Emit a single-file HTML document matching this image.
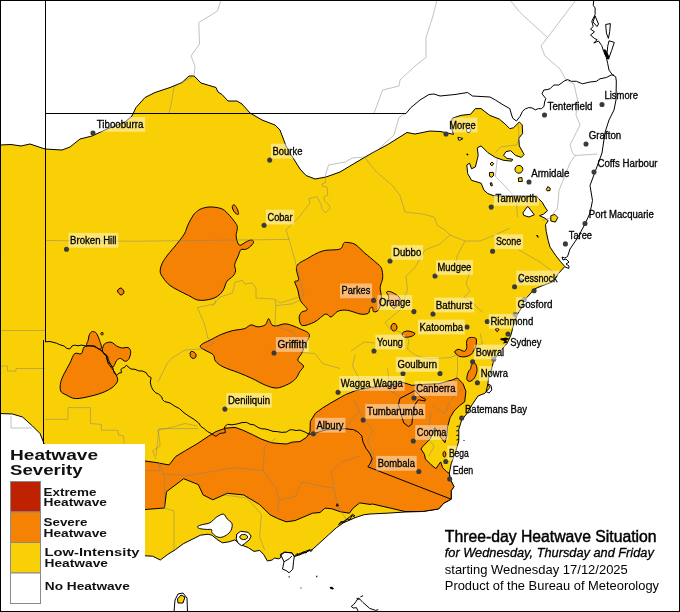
<!DOCTYPE html>
<html><head><meta charset="utf-8"><title>Three-day Heatwave Situation</title>
<style>
html,body{margin:0;padding:0;background:#fff;}
body{width:680px;height:612px;overflow:hidden;font-family:"Liberation Sans",sans-serif;}
svg{display:block;will-change:transform;opacity:0.999;font-family:"Liberation Sans",sans-serif;}
.t{font-size:10px;fill:#000;stroke:#000;stroke-width:0.3px;}
.lb{fill:#fff;fill-opacity:0.44;}
.dot{fill:#3a3a3c;}
.dotg{fill:#707070;}
.g{fill:none;stroke:#808080;stroke-opacity:0.48;stroke-width:1;}
.k{fill:none;stroke:#000;stroke-width:1;stroke-linejoin:round;}
.c{stroke:#000;stroke-width:1;stroke-linejoin:round;}
.lg{font-weight:bold;fill:#111;}
</style></head><body>
<svg width="680" height="612" viewBox="0 0 680 612">
<rect x="0" y="0" width="680" height="612" fill="#fff"/>

<path class="c" fill="#f9d005" d="M0.0,145.0 L11.0,144.5 L21.0,146.0 L30.0,144.0 L45.0,149.0 L62.0,150.0 L70.0,147.0 L80.0,139.0 L92.0,136.0 L107.0,129.0 L125.0,122.0 L132.0,116.0 L136.0,107.5 L145.0,97.5 L155.0,92.5 L170.0,87.5 L182.0,82.5 L189.0,76.0 L194.0,76.0 L201.0,83.0 L216.0,87.5 L218.0,92.0 L222.0,94.5 L228.0,101.0 L237.0,101.0 L242.0,104.0 L250.0,113.0 L262.0,120.0 L275.0,125.0 L280.0,130.0 L286.0,146.0 L290.0,153.0 L300.0,169.0 L306.0,175.5 L315.0,179.0 L326.0,177.0 L340.0,172.0 L355.0,163.0 L372.0,153.0 L387.0,145.0 L407.0,132.5 L415.0,134.0 L430.0,131.0 L440.0,131.5 L445.7,132.5 L453.4,134.4 L450.5,124.9 L452.4,118.2 L461.0,115.3 L470.6,114.3 L475.4,108.6 L481.0,108.6 L489.7,115.3 L499.3,119.1 L505.0,123.9 L509.8,128.7 L513.6,127.7 L519.3,122.0 L522.2,124.9 L522.6,133.5 L518.8,138.2 L519.3,145.9 L524.1,154.5 L521.3,157.4 L515.5,155.4 L510.7,150.7 L506.0,151.6 L503.5,155.4 L506.9,158.3 L512.7,159.3 L511.7,161.2 L503.1,160.2 L495.4,157.4 L487.8,152.6 L481.1,145.9 L477.3,147.8 L478.2,155.4 L475.4,166.9 L471.5,168.8 L469.6,163.1 L466.8,165.0 L467.7,173.6 L471.5,180.3 L481.1,183.2 L484.0,190.3 L487.9,193.6 L493.2,195.6 L503.0,196.0 L520.0,196.0 L537.0,196.3 L538.2,198.2 L542.2,202.2 L544.8,206.8 L547.5,210.8 L543.5,214.1 L539.6,215.7 L544.8,218.1 L548.2,220.7 L545.5,224.7 L546.2,231.3 L548.2,240.6 L550.1,247.2 L555.4,255.1 L560.7,261.8 L564.8,266.5 L558.2,273.8 L552.9,281.8 L542.3,285.7 L534.4,289.0 L529.1,295.0 L524.5,300.3 L521.2,308.2 L517.2,314.8 L513.0,326.9 L511.0,334.9 L507.0,343.5 L501.8,349.4 L496.5,356.0 L493.2,362.6 L491.2,370.6 L488.5,378.5 L487.9,383.8 L489.8,387.5 L485.0,393.2 L478.0,396.0 L472.2,404.6 L466.5,414.1 L461.7,419.9 L458.8,429.4 L458.8,440.9 L456.0,450.4 L451.2,463.8 L449.3,473.4 L450.2,479.1 L454.0,486.8 L451.2,490.6 L451.2,499.2 L444.0,503.0 L438.5,509.0 L422.5,511.5 L405.0,512.0 L390.0,513.0 L370.0,514.0 L364.1,514.7 L355.3,517.6 L343.5,522.8 L336.2,527.9 L328.8,534.6 L320.0,542.6 L312.6,549.3 L303.0,553.5 L294.3,556.6 L292.1,552.9 L284.7,552.2 L280.3,554.4 L281.0,557.5 L278.8,558.8 L274.4,558.1 L272.1,560.0 L267.4,561.0 L263.5,554.3 L259.7,550.4 L254.0,551.4 L248.2,547.6 L240.6,544.7 L234.9,539.9 L229.1,541.8 L222.4,542.8 L217.7,539.9 L211.9,535.2 L208.1,534.2 L200.4,535.2 L192.8,539.0 L183.2,543.8 L175.6,549.5 L167.9,554.3 L160.3,560.0 L152.6,556.2 L145.0,555.8 L138.0,556.0 L138.0,600.0 L44.0,600.0 L44.0,443.5 L40.0,433.5 L32.5,426.0 L22.5,417.0 L12.5,414.0 L0.0,413.5Z"/>
<path class="c" fill="#f9d005" d="M490.0,164.0 L492.0,162.0 L493.7,163.7 L491.8,165.9Z"/>
<path class="c" fill="#f9d005" d="M489.4,172.6 L493.2,172.3 L493.8,175.0 L491.8,177.3 L489.6,176.3Z"/>
<path class="c" fill="#f9d005" d="M490.2,183.0 L491.6,182.6 L492.4,185.6 L491.0,186.0Z"/>
<path class="c" fill="#f9d005" d="M522.8,169.3 C522.8,170.1 522.5,171.0 522.1,171.6 C521.6,172.2 520.8,172.8 520.1,173.0 C519.4,173.2 518.4,173.2 517.7,173.0 C517.0,172.8 516.2,172.2 515.7,171.6 C515.3,171.0 515.0,170.1 515.0,169.3 C515.0,168.5 515.3,167.6 515.7,167.0 C516.2,166.4 517.0,165.8 517.7,165.6 C518.4,165.4 519.4,165.4 520.1,165.6 C520.8,165.8 521.6,166.4 522.1,167.0 C522.5,167.6 522.8,168.5 522.8,169.3Z"/>
<path class="c" fill="#f9d005" d="M518.4,178.0 L521.8,177.5 L522.4,181.4 L518.6,181.6Z"/>
<path class="c" fill="#f9d005" d="M546.3,189.5 L547.8,186.6 L550.2,188.2 L550.0,190.6 L547.0,190.8Z"/>
<path class="c" fill="#f9d005" d="M550.8,215.7 L554.8,214.4 L557.8,217.4 L555.4,222.1 L550.8,221.0Z"/>
<path class="c" fill="#f9d005" d="M177.5,599.0 L181.0,595.0 L185.0,597.0 L183.0,603.0 L178.0,603.0Z"/>
<path class="c" fill="#fff" d="M470.6,130.4 C470.6,130.9 470.3,131.5 470.0,131.9 C469.6,132.2 469.0,132.5 468.5,132.5 C468.0,132.5 467.4,132.2 467.0,131.9 C466.7,131.5 466.4,130.9 466.4,130.4 C466.4,129.9 466.7,129.3 467.0,128.9 C467.4,128.6 468.0,128.3 468.5,128.3 C469.0,128.3 469.6,128.6 470.0,128.9 C470.3,129.3 470.6,129.9 470.6,130.4Z"/>
<path class="c" fill="#fff" d="M197.6,526.5 C198.1,525.9 200.3,525.2 202.4,524.6 C204.5,524.0 207.6,524.0 210.0,522.7 C212.4,521.4 214.5,518.4 216.7,517.0 C218.9,515.6 221.7,513.8 223.4,514.1 C225.2,514.4 225.8,517.3 227.2,518.9 C228.6,520.5 231.4,521.8 232.0,523.7 C232.6,525.6 231.9,528.5 231.0,530.4 C230.1,532.3 228.1,534.0 226.3,535.2 C224.6,536.4 222.3,537.2 220.5,537.4 C218.7,537.5 217.1,537.0 215.7,536.1 C214.3,535.2 212.6,533.4 211.9,532.3 C211.2,531.2 212.4,530.1 211.5,529.6 C210.6,529.1 208.2,529.6 206.2,529.4 C204.2,529.2 200.9,529.0 199.5,528.5 C198.1,528.0 197.1,527.1 197.6,526.5Z"/>
<path class="c" fill="#fff" d="M527.2,206.8 L528.2,206.8 L534.3,214.8 L529.0,217.0 L523.7,215.4 L523.0,212.8Z"/>
<path class="c" fill="#fff" d="M236.8,534.0 L240.6,531.3 L248.2,532.3 L251.1,536.1 L249.2,539.9 L244.4,543.8 L241.6,545.7 L238.0,543.0 L236.2,539.0Z"/>
<path class="c" fill="#fff" d="M458.0,137.3 L463.0,138.5 L460.0,140.2 L458.5,140.0Z"/>
<path class="c" fill="#f9d005" d="M247.6,537.0 C247.6,537.6 247.1,538.4 246.5,538.8 C245.8,539.3 244.6,539.6 243.7,539.6 C242.8,539.6 241.6,539.3 240.9,538.8 C240.3,538.4 239.8,537.6 239.8,537.0 C239.8,536.4 240.3,535.6 240.9,535.2 C241.6,534.7 242.8,534.4 243.7,534.4 C244.6,534.4 245.8,534.7 246.5,535.2 C247.1,535.6 247.6,536.4 247.6,537.0Z"/>
<path class="c" fill="#f58205" d="M140.0,461.0 L145.0,461.0 L156.0,462.5 L169.0,465.0 L175.7,456.5 L185.3,450.7 L196.8,444.0 L208.2,436.4 L215.9,431.6 L225.4,428.2 L235.0,427.4 L242.7,430.1 L252.2,434.5 L261.8,439.3 L271.3,442.7 L279.0,443.5 L286.6,444.0 L292.4,442.1 L300.0,441.6 L306.7,437.2 L310.0,431.5 L310.3,421.5 L315.4,413.2 L322.5,408.0 L330.9,402.9 L345.3,394.7 L355.6,390.6 L370.0,387.5 L388.5,385.4 L402.9,382.4 L412.2,385.4 L420.0,384.6 L439.0,383.7 L452.5,379.9 L457.3,377.9 L463.0,383.7 L465.9,391.3 L464.7,401.8 L459.4,405.7 L454.1,411.0 L450.1,417.6 L447.5,426.9 L446.8,436.2 L444.9,442.8 L440.2,436.8 L434.9,427.6 L430.3,438.8 L422.4,446.8 L421.0,449.0 L424.4,454.3 L425.4,459.0 L431.1,464.8 L435.9,468.6 L440.7,461.9 L442.6,467.7 L446.4,471.5 L449.3,473.4 L450.2,479.1 L454.0,486.8 L451.2,490.6 L451.2,499.2 L444.0,503.0 L438.5,509.0 L422.5,511.5 L405.0,511.5 L390.0,508.0 L372.5,504.0 L370.0,504.4 L359.7,502.9 L353.1,508.1 L349.4,513.2 L340.6,511.8 L331.8,508.8 L325.1,508.1 L320.0,512.5 L312.6,513.2 L303.8,516.9 L295.0,520.6 L286.2,521.8 L277.4,518.4 L270.0,514.7 L259.7,504.6 L243.6,494.9 L227.4,493.3 L212.8,499.8 L203.1,494.9 L198.3,484.6 L183.7,478.7 L166.5,491.7 L164.5,508.0 L145.0,509.5 L140.0,509.5Z"/>
<path class="c" fill="#f58205" d="M202.9,208.2 C205.3,207.5 208.6,206.8 211.8,207.0 C215.1,207.2 219.5,207.7 222.4,209.1 C225.3,210.5 227.2,213.0 229.4,215.3 C231.6,217.7 234.3,221.1 235.6,223.2 C236.9,225.2 237.3,225.5 237.4,227.6 C237.5,229.7 236.1,233.2 236.1,235.6 C236.1,238.0 236.8,240.2 237.4,241.8 C238.1,243.4 238.5,245.3 240.0,245.3 C241.5,245.3 244.3,242.7 246.2,241.8 C248.1,240.9 250.3,239.9 251.5,240.0 C252.7,240.1 253.9,241.1 253.6,242.3 C253.3,243.5 251.1,245.9 249.7,247.1 C248.3,248.3 246.8,249.0 245.3,249.4 C243.8,249.8 242.1,248.6 240.9,249.7 C239.7,250.8 239.2,253.4 238.2,255.9 C237.2,258.4 235.1,262.2 234.7,264.7 C234.3,267.2 235.9,269.0 235.6,270.9 C235.3,272.8 234.4,274.4 232.9,276.2 C231.4,278.0 228.4,279.1 226.8,281.5 C225.2,283.9 224.8,287.8 223.2,290.3 C221.6,292.8 219.6,294.9 217.1,296.5 C214.6,298.1 211.4,299.1 208.2,299.7 C204.9,300.3 200.8,300.7 197.6,300.0 C194.4,299.3 192.0,297.2 188.8,295.6 C185.6,294.0 181.4,292.1 178.2,290.3 C175.0,288.5 171.9,287.1 169.4,285.0 C166.9,282.9 164.7,280.1 163.2,277.9 C161.7,275.7 160.4,274.1 160.2,271.8 C160.0,269.5 160.8,266.6 162.0,263.8 C163.2,261.0 165.2,258.2 167.6,255.0 C170.0,251.8 173.7,247.9 176.5,244.4 C179.3,240.9 182.5,237.0 184.4,233.8 C186.3,230.6 186.4,228.1 187.9,225.0 C189.4,221.9 191.6,217.7 193.2,215.3 C194.8,213.0 196.0,212.1 197.6,210.9 C199.2,209.7 200.5,208.8 202.9,208.2Z"/>
<path class="c" fill="#f58205" d="M232.6,205.6 C232.9,205.1 233.8,204.5 234.5,205.0 C235.2,205.5 236.3,207.1 237.0,208.5 C237.7,209.9 238.5,212.5 238.6,213.5 C238.7,214.5 238.0,214.6 237.3,214.3 C236.6,214.1 235.1,213.1 234.3,212.0 C233.5,210.9 232.7,209.1 232.4,208.0 C232.1,206.9 232.2,206.1 232.6,205.6Z"/>
<path class="c" fill="#f58205" d="M346.4,242.4 C348.3,242.6 352.0,242.6 355.0,244.3 C358.0,246.1 361.1,249.9 364.6,252.9 C368.1,255.9 373.2,259.9 376.0,262.5 C378.8,265.1 380.3,265.6 381.4,268.2 C382.5,270.8 382.9,274.6 382.7,277.8 C382.5,281.0 380.4,284.2 380.2,287.4 C380.0,290.6 381.4,293.7 381.4,296.9 C381.3,300.1 380.6,304.1 379.9,306.5 C379.2,308.9 378.1,310.5 377.0,311.3 C375.9,312.1 373.9,312.0 373.2,311.3 C372.5,310.6 373.2,307.9 372.6,307.4 C372.1,306.9 370.6,307.4 369.9,308.4 C369.2,309.4 369.9,312.2 368.4,313.2 C366.9,314.1 364.2,314.6 360.7,314.1 C357.2,313.6 351.2,310.8 347.4,310.3 C343.6,309.8 340.5,310.2 337.8,311.3 C335.1,312.4 333.2,316.5 331.1,317.0 C329.0,317.5 328.1,313.3 325.4,314.1 C322.7,314.9 318.7,319.9 314.9,321.8 C311.1,323.7 305.0,326.2 302.4,325.6 C299.8,325.0 299.3,320.2 299.2,318.0 C299.1,315.8 300.2,313.6 301.5,312.2 C302.8,310.8 307.4,311.3 307.2,309.4 C307.0,307.5 302.1,304.0 300.5,300.7 C298.9,297.4 298.6,292.5 297.6,289.3 C296.7,286.1 294.6,283.2 294.8,281.6 C295.0,280.0 298.3,282.2 298.6,279.7 C298.9,277.1 295.3,269.8 296.7,266.3 C298.1,262.8 302.9,261.2 307.2,258.7 C311.5,256.1 317.1,252.6 322.5,251.0 C327.9,249.4 336.2,250.4 339.7,249.1 C343.2,247.8 342.4,244.5 343.5,243.4 C344.6,242.3 344.5,242.2 346.4,242.4Z"/>
<path class="c" fill="#f58205" d="M87.4,346.0 C85.3,344.5 87.9,341.9 88.2,340.0 C88.5,338.1 88.8,336.0 89.4,334.6 C90.0,333.2 91.0,332.1 91.8,331.7 C92.6,331.3 93.7,331.7 94.5,332.0 C95.3,332.3 95.8,332.2 96.6,333.6 C97.4,335.0 98.8,337.8 99.5,340.3 C100.2,342.9 102.8,347.9 100.8,348.9 C98.8,349.8 89.5,347.5 87.4,346.0Z"/>
<path class="c" fill="#f58205" d="M102.4,349.9 C102.6,348.5 102.9,345.4 104.3,344.1 C105.7,342.8 108.9,341.9 111.0,342.2 C113.1,342.5 115.0,345.1 116.7,346.0 C118.5,346.9 119.6,347.6 121.5,347.9 C123.4,348.2 126.7,347.0 128.2,347.6 C129.7,348.2 130.5,350.0 130.7,351.8 C130.8,353.6 130.0,356.9 129.1,358.5 C128.2,360.1 126.7,361.3 125.3,361.3 C123.9,361.3 121.9,358.6 120.5,358.5 C119.1,358.4 118.0,359.0 116.7,360.4 C115.4,361.8 114.2,367.0 112.9,367.1 C111.6,367.2 110.1,363.2 109.1,361.3 C108.1,359.4 108.1,357.0 107.1,355.6 C106.1,354.2 104.1,353.6 103.3,352.7 C102.5,351.8 102.2,351.3 102.4,349.9Z"/>
<path class="c" fill="#f58205" d="M74.6,353.7 C76.5,352.1 79.7,354.8 81.3,353.7 C82.9,352.6 82.6,348.3 84.2,347.0 C85.8,345.7 88.5,345.4 90.9,345.7 C93.3,346.0 96.0,347.2 98.5,348.9 C101.0,350.5 104.6,353.2 106.2,355.6 C107.8,358.0 106.8,360.6 108.1,363.2 C109.4,365.8 112.2,368.2 113.8,370.9 C115.4,373.6 117.7,376.9 117.7,379.5 C117.7,382.1 116.0,384.1 113.8,386.2 C111.6,388.3 108.1,390.2 104.3,391.9 C100.5,393.5 95.7,395.0 90.9,396.1 C86.1,397.2 79.8,398.8 75.6,398.6 C71.4,398.4 68.5,396.1 66.0,394.8 C63.5,393.5 61.6,393.1 60.7,391.0 C59.8,388.9 60.1,385.3 60.7,382.4 C61.3,379.5 62.6,377.0 64.1,373.8 C65.6,370.6 68.2,366.6 69.9,363.2 C71.7,359.8 72.7,355.3 74.6,353.7Z"/>
<path class="c" fill="#f58205" d="M103.3,333.6 C103.3,334.0 103.0,334.6 102.7,334.8 C102.4,335.0 101.7,335.0 101.4,334.8 C101.1,334.6 100.8,334.0 100.8,333.6 C100.8,333.3 101.1,332.7 101.4,332.5 C101.7,332.3 102.4,332.3 102.7,332.5 C103.0,332.7 103.3,333.3 103.3,333.6Z"/>
<path class="c" fill="#f58205" d="M213.7,355.4 C214.6,356.8 214.0,359.3 215.6,361.2 C217.2,363.1 219.4,365.0 223.2,366.9 C227.0,368.8 233.7,370.8 238.5,372.7 C243.3,374.6 247.4,376.3 251.9,378.4 C256.4,380.5 261.2,383.5 265.3,385.1 C269.4,386.7 273.0,388.2 276.8,388.0 C280.6,387.8 285.1,385.7 288.3,384.1 C291.5,382.5 294.0,380.5 295.9,378.4 C297.8,376.3 298.4,373.8 299.7,371.7 C301.0,369.6 303.8,367.9 303.5,366.0 C303.2,364.1 298.1,362.3 297.8,360.2 C297.5,358.1 300.3,356.2 301.6,353.5 C302.9,350.8 304.2,347.2 305.5,344.0 C306.8,340.8 310.3,336.9 309.3,334.4 C308.3,331.8 303.5,330.4 299.7,328.7 C295.9,326.9 290.1,324.4 286.3,323.9 C282.5,323.4 279.2,325.6 276.8,325.8 C274.4,326.0 273.4,326.1 272.0,324.9 C270.6,323.7 269.7,318.7 268.6,318.7 C267.5,318.7 267.1,323.5 265.3,324.9 C263.5,326.2 260.1,326.8 257.7,326.8 C255.3,326.8 253.2,324.6 251.0,324.9 C248.8,325.2 247.3,327.8 244.3,328.7 C241.3,329.6 236.6,329.7 232.8,330.6 C229.0,331.6 225.1,332.8 221.3,334.4 C217.5,336.0 213.1,338.6 209.9,340.2 C206.7,341.8 203.8,342.9 202.2,344.0 C200.6,345.1 200.0,345.9 200.3,346.8 C200.6,347.8 202.5,348.7 204.1,349.7 C205.7,350.7 208.3,351.7 209.9,352.6 C211.5,353.6 212.8,354.0 213.7,355.4Z"/>
<path class="c" fill="#f58205" d="M190.5,352.0 C191.0,351.2 192.6,351.4 193.5,351.8 C194.4,352.2 195.7,353.6 196.0,354.5 C196.3,355.4 196.0,356.9 195.5,357.5 C195.0,358.1 193.8,358.6 193.0,358.4 C192.2,358.2 190.9,357.6 190.5,356.5 C190.1,355.4 190.0,352.8 190.5,352.0Z"/>
<path class="c" fill="#f58205" d="M117.5,291.0 C117.5,289.8 119.9,287.8 121.0,288.0 C122.1,288.2 124.0,290.8 124.0,292.0 C124.0,293.2 122.1,295.2 121.0,295.0 C119.9,294.8 117.5,292.2 117.5,291.0Z"/>
<path class="c" fill="#f58205" d="M397.0,327.2 C397.0,328.1 396.6,329.3 396.1,329.9 C395.6,330.5 394.7,331.0 394.0,331.0 C393.3,331.0 392.4,330.5 391.9,329.9 C391.4,329.3 391.0,328.1 391.0,327.2 C391.0,326.4 391.4,325.2 391.9,324.6 C392.4,324.0 393.3,323.5 394.0,323.5 C394.7,323.5 395.6,324.0 396.1,324.6 C396.6,325.2 397.0,326.4 397.0,327.2Z"/>
<path class="c" fill="#f58205" d="M402.5,333.0 C403.2,332.0 405.9,330.9 408.0,331.0 C410.1,331.1 414.5,332.6 415.0,333.5 C415.5,334.4 412.8,335.9 411.0,336.5 C409.2,337.1 405.4,337.6 404.0,337.0 C402.6,336.4 401.8,334.0 402.5,333.0Z"/>
<path class="c" fill="#f58205" d="M466.8,340.7 C467.1,339.8 467.7,338.6 468.5,338.0 C469.3,337.4 470.4,337.4 471.6,337.4 C472.8,337.4 474.7,337.6 475.5,338.0 C476.3,338.4 476.3,339.1 476.4,340.1 C476.5,341.1 476.4,342.8 476.2,344.0 C476.0,345.2 475.8,346.2 475.4,347.4 C474.9,348.6 474.1,349.9 473.5,351.0 C472.9,352.1 472.5,353.2 471.6,354.0 C470.7,354.8 469.3,355.5 468.0,356.0 C466.7,356.5 465.3,356.8 464.0,356.9 C462.7,357.0 461.1,356.8 460.0,356.5 C458.9,356.2 458.1,355.6 457.3,355.0 C456.5,354.4 455.6,353.6 455.2,353.0 C454.8,352.4 454.5,351.7 454.8,351.2 C455.1,350.7 456.3,350.1 457.0,349.8 C457.7,349.5 458.4,349.2 459.2,349.3 C460.0,349.4 461.1,350.3 462.0,350.6 C462.9,350.9 464.2,351.5 464.9,351.2 C465.6,350.9 466.0,349.8 466.3,349.0 C466.6,348.2 466.8,347.3 466.8,346.4 C466.8,345.5 466.5,344.4 466.5,343.5 C466.5,342.6 466.5,341.6 466.8,340.7Z"/>
<path class="c" fill="#f58205" d="M471.6,364.6 C472.4,363.8 474.5,362.7 475.4,363.6 C476.3,364.6 477.1,367.9 477.0,370.3 C476.9,372.7 475.7,376.0 474.5,377.9 C473.3,379.8 471.0,381.2 469.7,381.4 C468.4,381.6 467.1,380.4 466.8,378.9 C466.6,377.4 467.6,373.9 468.2,372.2 C468.8,370.4 470.1,369.7 470.7,368.4 C471.3,367.1 470.8,365.4 471.6,364.6Z"/>
<path class="c" fill="#f58205" d="M445.8,454.2 C445.8,454.9 445.6,455.7 445.4,456.2 C445.2,456.6 444.7,457.0 444.4,457.0 C444.1,457.0 443.6,456.6 443.4,456.2 C443.2,455.7 443.0,454.9 443.0,454.2 C443.0,453.5 443.2,452.7 443.4,452.2 C443.6,451.8 444.1,451.4 444.4,451.4 C444.7,451.4 445.2,451.8 445.4,452.2 C445.6,452.7 445.8,453.5 445.8,454.2Z"/>
<path class="c" fill="#f58205" d="M495.5,328.8 C495.8,328.3 498.5,328.3 498.8,328.8 C499.1,329.3 497.8,331.7 497.2,331.7 C496.6,331.7 495.2,329.3 495.5,328.8Z"/>
<path class="c" fill="#f9a030" d="M386.6,292.0 C387.1,291.3 389.2,291.2 391.3,292.0 C393.4,292.8 397.6,295.4 399.0,297.0 C400.4,298.6 400.2,299.8 399.4,301.7 C398.6,303.6 395.9,308.2 394.2,308.4 C392.5,308.6 390.3,304.8 389.4,302.7 C388.4,300.6 389.0,297.8 388.5,296.0 C388.0,294.2 386.1,292.7 386.6,292.0Z"/>
<path class="g" d="M351.0,351.0 L364.0,342.0 L375.0,343.0"/>
<path class="g" d="M355.0,355.0 L352.5,366.0 L359.0,378.5 L352.0,390.0"/>
<path class="g" d="M387.5,368.5 L390.0,391.0 L402.0,398.0"/>
<path class="g" d="M480.0,333.5 L482.5,343.5 L476.0,346.0"/>
<path class="g" d="M355.0,401.0 L359.0,411.0 L345.0,428.5"/>
<path class="g" d="M359.0,411.0 L372.5,431.0 L367.5,441.0 L374.0,456.0 L370.0,470.0"/>
<path class="g" d="M432.5,406.0 L445.0,413.5 L450.0,401.0 L462.5,388.5"/>
<path class="g" d="M431.0,412.0 L428.0,439.0 L434.0,446.0 L429.0,456.0"/>
<path class="g" d="M175.0,426.3 L185.0,423.5 L197.5,426.0"/>
<path class="g" d="M519.0,250.0 L540.0,262.0 L553.0,272.0"/>
<path class="g" d="M274.9,326.0 L292.1,331.5 L297.8,338.2 L303.5,352.6 L315.0,353.5 L322.5,363.5 L340.0,368.5"/>
<path class="g" d="M145.0,470.6 L159.4,470.6 L159.4,463.0 L164.3,477.0 L164.3,508.0 L174.0,511.0 L174.0,550.0"/>
<path class="g" d="M198.0,428.6 L159.0,428.6 L156.0,456.0"/>
<path class="g" d="M164.0,474.0 L188.5,475.5 L217.7,470.6 L234.0,467.5 L263.0,470.6 L264.6,446.4 L276.0,438.0"/>
<path class="g" d="M263.0,470.6 L276.0,488.4 L279.0,501.4 L277.5,511.0"/>
<path class="g" d="M279.0,500.0 L295.3,496.5 L301.8,482.0 L334.0,488.4 L331.0,472.0 L340.6,462.5 L360.0,456.0"/>
<path class="g" d="M334.0,488.4 L337.4,504.6 L347.0,521.0"/>
<path class="g" d="M224.0,495.0 L246.8,498.0 L261.4,514.3 L259.7,537.0 L264.6,550.0"/>
<path class="g" d="M221.0,0.0 L217.5,11.0 L198.8,22.5 L199.5,44.0 L191.0,56.0 L195.0,66.0 L194.0,76.0 L174.0,87.0 L171.0,105.0 L169.0,113.0"/>
<path class="g" d="M437.0,0.0 L432.5,17.5 L426.0,37.5 L426.0,57.5 L415.0,66.0 L400.0,80.0 L399.0,86.0 L382.5,90.0 L379.0,100.0 L374.0,113.0"/>
<path class="g" d="M406.0,113.0 L399.0,117.5 L394.0,135.0 L377.5,150.0 L365.0,158.0 L377.5,173.0 L392.5,185.5 L400.0,195.5 L405.0,212.0 L422.5,214.0 L434.0,217.0 L437.5,225.5 L445.0,230.0 L450.0,235.0 L465.0,241.0 L480.0,241.0 L495.0,235.0 L510.0,228.0"/>
<path class="g" d="M450.0,235.0 L440.0,244.0 L425.0,250.0 L415.0,267.5 L406.0,276.0 L407.5,290.0 L402.5,302.5 L400.0,310.0 L385.0,322.5 L390.0,329.0 L401.0,332.5 L409.0,340.0 L407.5,349.0 L415.0,355.0 L427.5,359.0 L450.0,357.5 L457.5,355.0 L457.5,372.5 L455.0,383.0"/>
<path class="g" d="M465.0,241.0 L457.5,255.0 L456.0,261.0 L470.0,271.0 L466.0,284.0 L470.0,291.0 L464.0,297.5 L475.0,305.0 L482.5,312.5"/>
<path class="g" d="M510.0,0.0 L520.0,12.5 L547.5,37.5"/>
<path class="g" d="M576.0,0.0 L547.5,37.5"/>
<path class="g" d="M547.5,37.5 L541.0,46.0 L545.0,56.0 L560.0,69.0 L566.0,80.0 L574.0,84.0 L577.5,100.0 L576.0,115.0 L580.0,125.0 L570.0,145.0 L572.5,153.0 L575.0,155.5 L597.5,154.0"/>
<path class="g" d="M575.0,155.5 L570.0,163.0 L564.0,178.0 L559.0,190.5 L557.5,208.0 L550.0,218.0 L542.5,220.5"/>
<path class="g" d="M365.0,157.0 L352.5,158.0 L345.0,162.0 L328.5,165.0 L324.9,176.8 L325.6,182.6 L321.9,184.1 L322.6,186.3 L327.1,187.1 L327.8,195.1 L324.1,196.6 L324.1,200.3 L329.3,205.4 L330.0,208.4 L325.6,212.8 L321.9,209.1 L321.2,204.7 L316.8,196.6 L308.7,198.8 L310.1,203.2 L302.1,212.8 L300.6,215.7 L285.9,230.0 L289.0,239.0 L295.0,260.5 L304.0,295.5"/>
<path class="g" d="M45.0,240.5 L135.0,241.2 L200.0,240.5 L289.0,239.4"/>
<path class="g" d="M212.5,306.0 L220.0,297.0 L232.5,293.0 L235.0,282.0 L242.5,280.5 L245.0,284.0 L252.5,283.0 L256.0,288.0 L256.0,298.0 L275.0,299.0 L280.0,303.0 L304.0,295.5"/>
<path class="g" d="M0.0,330.5 L45.0,330.5"/>
<path class="g" d="M0.0,366.0 L7.5,366.0 L7.5,371.0 L16.0,371.0 L16.0,368.5 L45.0,368.5"/>
<path class="g" d="M45.0,419.3 L68.0,419.3 L68.0,407.6 L90.5,407.6 L90.5,423.5 L101.4,424.4 L101.4,430.2 L117.7,430.2 L118.6,435.0 L123.4,435.9 L124.4,443.5"/>
<path class="g" d="M157.8,382.4 L163.5,370.9 L167.4,363.2 L172.0,358.0 L185.0,350.1 L204.1,348.7 L213.7,343.0 L207.9,338.2 L204.1,322.9 L197.4,307.6 L214.6,303.8 L215.6,300.0"/>
<path class="g" d="M175.0,426.3 L163.5,429.2 L157.8,430.2 L159.7,439.7 L160.0,446.0 L152.5,451.0 L156.0,459.0"/>
<path class="g" d="M495.4,152.6 L501.0,146.8 L516.5,145.0 L519.0,138.0 L518.4,124.9"/>
<path class="g" d="M497.4,157.4 L495.4,176.5 L505.0,186.0 L516.5,199.4 L517.4,217.0"/>
<path class="g" d="M274.9,300.0 L275.8,305.7 L274.9,324.9"/>
<path class="g" d="M275.8,305.7 L292.1,303.8 L299.7,300.0"/>
<path class="g" d="M11.0,416.0 L11.0,428.0 L32.0,428.0"/>
<path class="k" d="M284.0,561.8 L289.1,558.8 L292.0,555.9"/>
<path class="k" d="M294.3,556.6 L297.0,553.5 L300.0,555.0 L303.0,552.0 L306.0,553.0 L309.0,550.0 L311.2,551.5 L312.6,549.3"/>
<path class="k" d="M296.0,555.5 L301.0,553.0 L305.0,551.5 L310.0,549.6"/>
<path class="k" d="M338.4,525.0 L341.0,521.5 L344.0,522.5 L347.0,519.0 L350.0,519.5 L352.0,515.5 L355.3,517.6"/>
<path class="k" d="M339.5,523.8 L345.0,520.5 L349.0,517.5 L352.5,514.3 L355.0,515.8"/>
<path class="k" d="M458.8,426.0 L456.5,426.5"/>
<path class="k" d="M458.8,430.5 L456.3,431.0"/>
<path class="k" d="M458.8,435.0 L456.3,435.5"/>
<path class="k" d="M458.8,439.5 L456.5,440.0"/>
<path class="k" d="M0.0,497.5 L2.5,497.5 L3.5,499.0"/>
<path class="k" d="M358.1,611.0 L356.5,607.7 L353.2,608.0 L351.2,606.4 L353.8,604.4 L355.8,601.8 L358.5,597.8 L363.0,602.5 L369.7,608.4 L375.7,610.4 L378.3,609.7"/>
<path class="k" d="M360.4,596.9 L363.1,595.6"/>
<path class="k" d="M356.5,598.5 L359.5,599.5"/>
<path class="k" d="M45.5,0.0 L45.5,342.0"/>
<path class="k" d="M43.5,340.0 L43.5,444.0"/>
<path class="k" d="M45.5,113.5 L406.0,113.5"/>
<path class="k" d="M406.0,113.5 L411.0,107.5 L420.0,100.0 L429.0,94.5 L434.0,94.0 L440.0,96.0 L455.0,94.5 L467.5,92.5 L472.5,96.0 L490.0,97.0 L495.4,100.0 L503.0,104.8 L509.8,108.6 L511.0,113.0 L512.7,118.2 L516.4,121.0 L520.0,116.5 L522.5,111.3 L525.5,108.8 L528.8,107.6 L532.0,107.9 L535.3,109.8 L538.5,108.6 L541.3,108.8 L544.0,106.4 L544.6,102.0 L545.8,98.5 L542.0,93.8 L543.8,90.0 L547.0,89.6 L550.0,88.8 L553.8,85.0 L558.8,85.0 L563.8,81.3 L567.5,79.5 L571.3,81.3 L576.3,81.3 L582.5,83.8 L590.0,82.0 L596.3,81.3 L600.0,78.8 L606.3,77.5 L611.3,75.0 L614.0,75.0"/>
<path class="k" d="M593.8,0.0 L593.2,5.3 L595.1,7.9 L595.1,14.6 L591.8,21.2 L593.2,26.5 L590.5,29.1 L594.5,31.8 L590.5,35.1 L594.5,38.4 L597.1,39.7 L593.8,43.0 L598.5,41.0 L601.8,45.7 L603.7,51.6 L606.4,57.6 L607.7,63.5 L609.0,70.1 L612.4,74.8 L615.7,76.8 L616.3,81.0 L616.0,100.0 L614.0,110.0 L609.0,120.0 L605.0,132.5 L602.0,153.0 L595.0,172.0 L590.0,185.5 L592.5,200.5 L590.0,213.0 L585.0,224.0 L577.5,238.0 L570.0,249.0 L567.5,256.6 L564.8,258.0 L562.0,257.0 L563.0,260.0 L566.0,259.0 L569.0,262.0 L566.0,264.0 L569.0,266.0 L568.8,268.5 L564.8,266.8"/>
<path class="k" d="M45.0,341.8 L50.0,341.5 L56.5,343.2 L60.0,344.8 L64.1,346.0 L67.0,348.5 L69.9,348.9 L72.0,346.0 L74.6,345.1 L78.0,345.8 L81.3,345.1 L86.1,346.0 L94.7,346.0 L98.5,348.9 L102.4,350.8 L104.0,354.0 L106.2,355.6 L107.0,359.5 L108.1,362.3 L111.0,365.0 L112.9,368.0 L114.0,372.5 L116.7,375.7 L119.0,373.0 L121.5,372.8 L121.0,369.5 L122.4,368.0 L124.5,367.5 L126.3,365.2 L129.0,367.5 L131.0,369.0 L135.0,369.3 L138.7,370.9 L142.5,371.0 L146.3,372.8 L148.0,375.8 L151.1,377.6 L150.3,382.0 L151.1,386.2 L153.0,390.0 L155.9,392.9 L158.5,394.0 L161.6,396.7 L162.5,399.5 L164.5,401.5 L170.0,403.0 L175.0,406.3 L179.6,408.7 L184.0,412.8 L189.1,416.3 L194.0,419.3 L198.7,423.0 L201.0,426.5 L204.4,428.8 L207.5,431.5 L211.1,433.5 L215.9,436.4 L219.7,433.5 L225.4,432.6 L224.5,426.8 L227.4,424.4 L232.0,424.8 L236.9,424.0 L242.0,422.6 L246.5,422.4 L250.0,424.2 L254.1,424.9 L258.0,427.5 L261.8,428.8 L265.5,429.0 L269.4,430.1 L273.0,431.4 L277.1,431.6 L282.0,432.4 L286.6,432.0 L289.5,430.0 L292.4,429.7 L296.0,430.5 L300.0,430.1 L305.0,432.0 L309.0,434.2 L313.4,433.8 L320.0,431.5 L326.8,429.7 L336.0,429.3 L345.3,428.7 L353.5,429.7 L358.0,432.0 L361.8,435.9 L363.0,442.0 L365.9,448.2 L369.5,453.0 L372.1,458.5 L370.5,463.0 L367.9,466.8 L451.2,499.2"/>
<path class="k" d="M487.9,384.0 L491.0,385.5 L491.8,390.0 L489.0,393.0 L486.0,391.5 L487.0,388.0Z"/>
<path class="k" d="M605.7,24.5 L610.4,23.6 L609.7,31.8 L608.4,38.4 L606.4,33.1Z"/>
<path class="k" d="M609.0,40.8 L614.3,42.4 L611.7,50.3 L609.0,57.6 L607.1,52.9 L607.7,46.3Z"/>
<path class="k" d="M595.1,15.9 L598.5,24.0 L597.0,26.5 L593.0,22.0Z"/>
<path class="k" d="M281.0,555.1 L284.0,561.8 L282.5,569.1 L286.2,570.6 L289.1,572.8 L292.8,569.1 L293.5,561.8 L294.3,556.6 L292.1,552.9 L284.7,552.2Z"/>
<path class="k" d="M336.2,505.9 L337.3,503.7 L338.4,505.9Z"/>
<path class="k" d="M174.0,612.0 L175.0,600.0 L178.0,594.0 L183.0,593.0 L187.0,598.0 L187.5,612.0Z"/>
<path class="k" d="M415.0,390.5 L399.9,398.5 L398.5,404.4 L401.2,415.0 L403.8,423.0 L408.5,426.6 L411.8,424.3 L413.0,413.7 L415.0,404.4 L418.4,399.8 L425.0,401.0 L425.7,399.4 L421.0,397.0 L418.4,394.5Z"/>
<path fill="#000" d="M466.0,154.0 L467.5,153.6 L468.7,155.0 L467.5,155.6Z"/>
<path fill="#000" d="M288.6,576.3 L289.7,576.3 L289.7,577.4 L288.6,577.4Z"/>
<path fill="#000" d="M316.2,575.8 L317.5,575.8 L317.2,577.2 L316.2,577.2Z"/>
<path fill="#000" d="M300.5,587.4 L301.5,587.4 L301.5,588.5 L300.5,588.5Z"/>
<path fill="#000" d="M329.6,587.0 L332.0,586.8 L334.0,588.5 L333.0,589.5 L330.5,589.0Z"/>
<path fill="#000" d="M463.5,440.0 L464.5,440.0 L464.5,441.0 L463.5,441.0Z"/>
<path fill="#000" d="M603.5,49.0 L606.0,50.0 L609.0,57.0 L609.5,59.6 L607.0,59.0 L604.5,54.0Z"/>
<path fill="#000" d="M500.4,338.5 L506.0,337.5 L509.7,339.0 L506.0,340.5 L508.0,342.5 L503.0,343.5 L504.5,341.0 L500.4,340.0Z"/>
<path fill="#000" d="M536.0,235.0 L537.5,235.0 L539.0,237.5 L537.5,237.5Z"/>
<circle class="dot" cx="93.0" cy="133.1" r="2.55"/>
<circle class="dot" cx="269.7" cy="160.1" r="2.55"/>
<circle class="dot" cx="264.1" cy="225.3" r="2.55"/>
<circle class="dot" cx="66.5" cy="249.3" r="2.55"/>
<circle class="dot" cx="446.0" cy="134.0" r="2.55"/>
<circle class="dot" cx="544.5" cy="115.0" r="2.55"/>
<circle class="dot" cx="602.0" cy="104.5" r="2.55"/>
<circle class="dot" cx="586.0" cy="144.0" r="2.55"/>
<circle class="dot" cx="594.0" cy="172.0" r="2.55"/>
<circle class="dot" cx="529.0" cy="182.0" r="2.55"/>
<circle class="dot" cx="491.2" cy="207.1" r="2.55"/>
<circle class="dot" cx="585.0" cy="223.5" r="2.55"/>
<circle class="dot" cx="565.4" cy="243.9" r="2.55"/>
<circle class="dot" cx="492.6" cy="251.2" r="2.55"/>
<circle class="dot" cx="390.0" cy="261.0" r="2.55"/>
<circle class="dot" cx="435.0" cy="276.0" r="2.55"/>
<circle class="dot" cx="514.6" cy="286.8" r="2.55"/>
<circle class="dotg" cx="515.2" cy="314.5" r="2.55"/>
<circle class="dot" cx="373.6" cy="300.4" r="2.55"/>
<circle class="dot" cx="413.9" cy="311.6" r="2.55"/>
<circle class="dot" cx="433.0" cy="314.0" r="2.55"/>
<circle class="dot" cx="487.3" cy="321.5" r="2.55"/>
<circle class="dot" cx="467.0" cy="327.0" r="2.55"/>
<circle class="dot" cx="508.0" cy="334.0" r="2.55"/>
<circle class="dot" cx="374.0" cy="351.0" r="2.55"/>
<circle class="dot" cx="472.6" cy="361.7" r="2.55"/>
<circle class="dot" cx="440.0" cy="373.5" r="2.55"/>
<circle class="dot" cx="403.0" cy="373.5" r="2.55"/>
<circle class="dot" cx="477.4" cy="382.7" r="2.55"/>
<circle class="dot" cx="338.1" cy="392.2" r="2.55"/>
<circle class="dot" cx="414.0" cy="398.0" r="2.55"/>
<circle class="dot" cx="274.0" cy="353.0" r="2.55"/>
<circle class="dot" cx="224.9" cy="409.1" r="2.55"/>
<circle class="dot" cx="313.4" cy="433.8" r="2.55"/>
<circle class="dot" cx="363.2" cy="420.0" r="2.55"/>
<circle class="dot" cx="461.7" cy="418.0" r="2.55"/>
<circle class="dot" cx="413.3" cy="441.0" r="2.55"/>
<circle class="dot" cx="445.8" cy="461.5" r="2.55"/>
<circle class="dot" cx="418.8" cy="471.5" r="2.55"/>
<circle class="dot" cx="449.7" cy="479.0" r="2.55"/>
<circle class="dot" cx="534.1" cy="290.8" r="2.55"/>
<circle class="dotg" cx="524.5" cy="299.6" r="2.55"/>
<circle class="dotg" cx="493.8" cy="359.3" r="2.55"/>
<circle class="dotg" cx="520.9" cy="280.7" r="2.55"/>
<rect class="lb" x="95.2" y="117.0" width="50.0" height="14.8"/>
<rect class="lb" x="271.0" y="143.8" width="33.2" height="14.8"/>
<rect class="lb" x="265.9" y="209.7" width="28.4" height="14.8"/>
<rect class="lb" x="68.5" y="232.9" width="49.8" height="14.8"/>
<rect class="lb" x="447.6" y="117.6" width="29.9" height="14.8"/>
<rect class="lb" x="494.0" y="191.0" width="45.0" height="14.8"/>
<rect class="lb" x="494.3" y="234.3" width="28.8" height="14.8"/>
<rect class="lb" x="391.4" y="245.1" width="31.6" height="14.8"/>
<rect class="lb" x="435.9" y="260.1" width="37.1" height="14.8"/>
<rect class="lb" x="516.3" y="270.6" width="43.1" height="14.8"/>
<rect class="lb" x="515.9" y="297.3" width="38.4" height="14.8"/>
<rect class="lb" x="340.0" y="283.5" width="32.1" height="14.8"/>
<rect class="lb" x="377.3" y="295.1" width="34.9" height="14.8"/>
<rect class="lb" x="434.2" y="297.6" width="39.9" height="14.8"/>
<rect class="lb" x="488.8" y="313.9" width="46.2" height="14.8"/>
<rect class="lb" x="417.9" y="319.6" width="46.9" height="14.8"/>
<rect class="lb" x="375.4" y="334.6" width="29.4" height="14.8"/>
<rect class="lb" x="474.2" y="344.6" width="31.7" height="14.8"/>
<rect class="lb" x="395.9" y="357.1" width="42.9" height="14.8"/>
<rect class="lb" x="479.2" y="366.1" width="30.6" height="14.8"/>
<rect class="lb" x="339.2" y="376.0" width="65.5" height="14.8"/>
<rect class="lb" x="414.6" y="381.1" width="42.6" height="14.8"/>
<rect class="lb" x="275.9" y="337.1" width="32.9" height="14.8"/>
<rect class="lb" x="226.3" y="393.0" width="45.5" height="14.8"/>
<rect class="lb" x="314.9" y="417.8" width="30.5" height="14.8"/>
<rect class="lb" x="365.3" y="404.0" width="60.0" height="14.8"/>
<rect class="lb" x="415.2" y="425.1" width="33.0" height="14.8"/>
<rect class="lb" x="447.3" y="445.7" width="23.3" height="14.8"/>
<rect class="lb" x="376.2" y="455.9" width="40.5" height="14.8"/>
<text class="t" x="96.8" y="127.9" textLength="46.6" lengthAdjust="spacingAndGlyphs">Tibooburra</text>
<text class="t" x="272.6" y="154.7" textLength="29.8" lengthAdjust="spacingAndGlyphs">Bourke</text>
<text class="t" x="267.5" y="220.6" textLength="25.0" lengthAdjust="spacingAndGlyphs">Cobar</text>
<text class="t" x="70.1" y="243.8" textLength="46.4" lengthAdjust="spacingAndGlyphs">Broken Hill</text>
<text class="t" x="449.2" y="128.5" textLength="26.5" lengthAdjust="spacingAndGlyphs">Moree</text>
<text class="t" x="547.5" y="110.0" textLength="45.0" lengthAdjust="spacingAndGlyphs">Tenterfield</text>
<text class="t" x="604.5" y="99.0" textLength="33.5" lengthAdjust="spacingAndGlyphs">Lismore</text>
<text class="t" x="588.8" y="139.0" textLength="32.5" lengthAdjust="spacingAndGlyphs">Grafton</text>
<text class="t" x="597.5" y="167.0" textLength="60.0" lengthAdjust="spacingAndGlyphs">Coffs Harbour</text>
<text class="t" x="531.2" y="177.0" textLength="38.2" lengthAdjust="spacingAndGlyphs">Armidale</text>
<text class="t" x="495.6" y="201.9" textLength="41.6" lengthAdjust="spacingAndGlyphs">Tamworth</text>
<text class="t" x="588.8" y="217.5" textLength="65.0" lengthAdjust="spacingAndGlyphs">Port Macquarie</text>
<text class="t" x="568.8" y="239.0" textLength="23.2" lengthAdjust="spacingAndGlyphs">Taree</text>
<text class="t" x="495.9" y="245.2" textLength="25.4" lengthAdjust="spacingAndGlyphs">Scone</text>
<text class="t" x="393.0" y="256.0" textLength="28.2" lengthAdjust="spacingAndGlyphs">Dubbo</text>
<text class="t" x="437.5" y="271.0" textLength="33.8" lengthAdjust="spacingAndGlyphs">Mudgee</text>
<text class="t" x="517.9" y="281.5" textLength="39.7" lengthAdjust="spacingAndGlyphs">Cessnock</text>
<text class="t" x="517.5" y="308.2" textLength="35.0" lengthAdjust="spacingAndGlyphs">Gosford</text>
<text class="t" x="341.6" y="294.4" textLength="28.7" lengthAdjust="spacingAndGlyphs">Parkes</text>
<text class="t" x="378.9" y="306.0" textLength="31.5" lengthAdjust="spacingAndGlyphs">Orange</text>
<text class="t" x="435.8" y="308.5" textLength="36.5" lengthAdjust="spacingAndGlyphs">Bathurst</text>
<text class="t" x="490.4" y="324.8" textLength="42.8" lengthAdjust="spacingAndGlyphs">Richmond</text>
<text class="t" x="419.5" y="330.5" textLength="43.5" lengthAdjust="spacingAndGlyphs">Katoomba</text>
<text class="t" x="510.3" y="345.5" textLength="31.1" lengthAdjust="spacingAndGlyphs">Sydney</text>
<text class="t" x="377.0" y="345.5" textLength="26.0" lengthAdjust="spacingAndGlyphs">Young</text>
<text class="t" x="475.8" y="355.5" textLength="28.3" lengthAdjust="spacingAndGlyphs">Bowral</text>
<text class="t" x="397.5" y="368.0" textLength="39.5" lengthAdjust="spacingAndGlyphs">Goulburn</text>
<text class="t" x="480.8" y="377.0" textLength="27.2" lengthAdjust="spacingAndGlyphs">Nowra</text>
<text class="t" x="340.8" y="386.9" textLength="62.1" lengthAdjust="spacingAndGlyphs">Wagga Wagga</text>
<text class="t" x="416.2" y="392.0" textLength="39.2" lengthAdjust="spacingAndGlyphs">Canberra</text>
<text class="t" x="277.5" y="348.0" textLength="29.5" lengthAdjust="spacingAndGlyphs">Griffith</text>
<text class="t" x="227.9" y="403.9" textLength="42.1" lengthAdjust="spacingAndGlyphs">Deniliquin</text>
<text class="t" x="316.5" y="428.7" textLength="27.1" lengthAdjust="spacingAndGlyphs">Albury</text>
<text class="t" x="366.9" y="414.9" textLength="56.6" lengthAdjust="spacingAndGlyphs">Tumbarumba</text>
<text class="t" x="465.0" y="412.6" textLength="62.0" lengthAdjust="spacingAndGlyphs">Batemans Bay</text>
<text class="t" x="416.8" y="436.0" textLength="29.6" lengthAdjust="spacingAndGlyphs">Cooma</text>
<text class="t" x="448.9" y="456.6" textLength="19.9" lengthAdjust="spacingAndGlyphs">Bega</text>
<text class="t" x="377.8" y="466.8" textLength="37.1" lengthAdjust="spacingAndGlyphs">Bombala</text>
<text class="t" x="452.7" y="473.8" textLength="20.5" lengthAdjust="spacingAndGlyphs">Eden</text>

<rect x="1" y="444" width="144" height="167.5" fill="#fff"/>
<text class="lg" x="10" y="459.6" font-size="14.5" textLength="88" lengthAdjust="spacingAndGlyphs">Heatwave</text>
<text class="lg" x="10" y="474.6" font-size="14.5" textLength="72.5" lengthAdjust="spacingAndGlyphs">Severity</text>
<rect x="10.5" y="481.5" width="30" height="30.5" fill="#be2200" stroke="#8a8a8a"/>
<rect x="10.5" y="512" width="30" height="30.5" fill="#f58205" stroke="#8a8a8a"/>
<rect x="10.5" y="542.5" width="30" height="30.5" fill="#f9d005" stroke="#8a8a8a"/>
<rect x="10.5" y="573" width="30" height="30.5" fill="#fff" stroke="#8a8a8a"/>
<g class="lg" font-size="11.5">
<text x="43.5" y="495.75" textLength="53" lengthAdjust="spacingAndGlyphs">Extreme</text>
<text x="43.5" y="506" textLength="63.5" lengthAdjust="spacingAndGlyphs">Heatwave</text>
<text x="43.5" y="525.75" textLength="44" lengthAdjust="spacingAndGlyphs">Severe</text>
<text x="43.5" y="536.5" textLength="63.5" lengthAdjust="spacingAndGlyphs">Heatwave</text>
<text x="44.5" y="556" textLength="95" lengthAdjust="spacingAndGlyphs">Low-Intensity</text>
<text x="44.5" y="566.5" textLength="63.5" lengthAdjust="spacingAndGlyphs">Heatwave</text>
<text x="44.8" y="590" textLength="85" lengthAdjust="spacingAndGlyphs">No Heatwave</text>
</g>


<g fill="#000">
<text x="444.8" y="541.9" font-size="16" stroke="#000" stroke-width="0.45" textLength="211.8" lengthAdjust="spacingAndGlyphs">Three-day Heatwave Situation</text>
<text x="444.8" y="557.4" font-size="13" font-style="italic" stroke="#000" stroke-width="0.3" textLength="209" lengthAdjust="spacingAndGlyphs">for Wednesday, Thursday and Friday</text>
<text x="444.8" y="573.6" font-size="13" textLength="183" lengthAdjust="spacingAndGlyphs">starting Wednesday 17/12/2025</text>
<text x="444.8" y="589.9" font-size="13" textLength="214.2" lengthAdjust="spacingAndGlyphs">Product of the Bureau of Meteorology</text>
</g>

<rect x="0.5" y="0.5" width="679" height="611" fill="none" stroke="#000" stroke-width="1"/>
</svg></body></html>
